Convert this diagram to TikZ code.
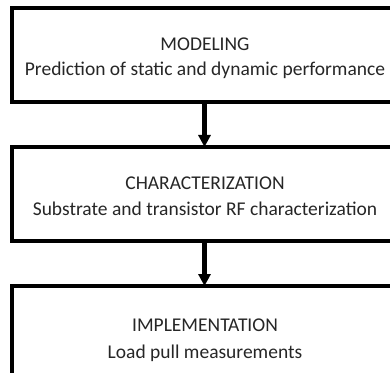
\documentclass[tikz,border=0pt]{standalone}
\usepackage{fontspec}
\setmainfont{Carlito}
\usetikzlibrary{arrows.meta}
\begin{document}
\begin{tikzpicture}[x=1pt,y=1pt,
  stagebox/.style={draw=black,line width=4pt,fill=white,minimum width=387pt,minimum height=94pt,inner sep=0pt,outer sep=0pt,anchor=north west},
  stagetext/.style={anchor=base,font=\fontsize{19.5}{22}\selectfont,inner sep=0pt,text=black!85},
  flow/.style={line width=4.5pt,-{Triangle[width=12pt,length=12pt]}}]
\useasboundingbox (0,0) rectangle (390,372);
\clip (0,0) rectangle (390,372);
\node[stagebox] (b1) at (11.5,363.5) {};
\node[stagebox] (b2) at (11.5,225) {};
\node[stagebox] (b3) at (11.5,86) {};
\node[stagetext] (t1a) at (205,321.3) {MODELING};
\node[stagetext] (t1b) at (205,296.5) {Prediction of static and dynamic performance};
\node[stagetext] (t2a) at (205,182) {CHARACTERIZATION};
\node[stagetext] (t2b) at (205,156) {Substrate and transistor RF characterization};
\node[stagetext] (t3a) at (205,40.3) {IMPLEMENTATION};
\node[stagetext] (t3b) at (205,14) {Load pull measurements};
\draw[flow] (b1.south -| 204.5,0) -- (b2.north -| 204.5,0);
\draw[flow] (b2.south -| 204.5,0) -- (b3.north -| 204.5,0);
\end{tikzpicture}
\end{document}
